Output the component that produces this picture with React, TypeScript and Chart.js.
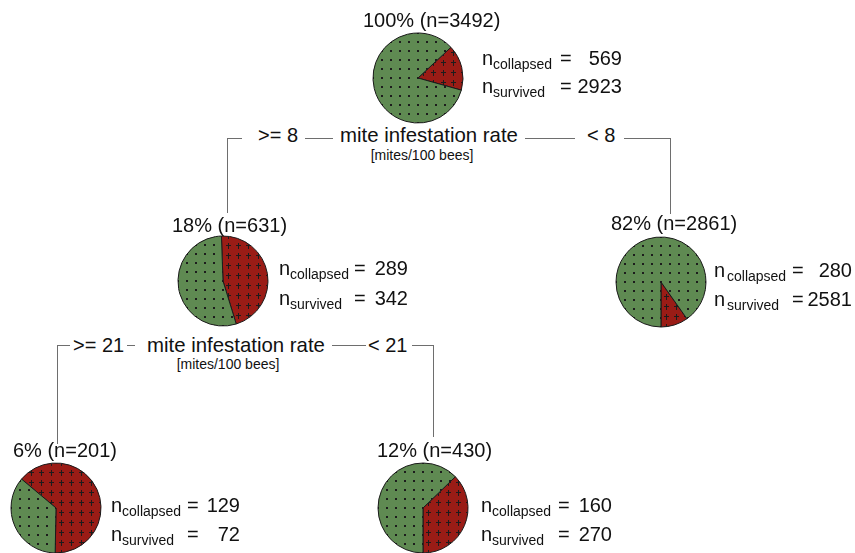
import React, { useEffect, useRef } from "react";
import { Chart, registerables } from "chart.js";

Chart.register(...registerables);

// Colony counts per tree node: root, >= 8, < 8, >= 21, < 21
const nodeNames = ["all colonies", "rate >= 8", "rate < 8", "rate >= 21", "8 <= rate < 21"];
const collapsedCounts = [569, 289, 280, 129, 160];
const survivedCounts = [2923, 342, 2581, 72, 270];
const sliceLabels = ["collapsed", "survived"];

// Split descriptions
const splitVariable = "mite infestation rate";
const splitUnit = "[mites/100 bees]";
const splitThresholds = [8, 21];

const totalColonies = collapsedCounts[0] + survivedCounts[0];

const FONT = '"Liberation Sans", Arial, Helvetica, sans-serif';
const TEXT_COLOR = "#111";
const LINE_COLOR = "#6e6e6e";
const GREEN = "#5f8a52";
const RED = "#9a1c16";

// Placement of each node: pie centre, title, count block, and pie rotation
const nodeLayout = [
  { cx: 418, cy: 78, rotation: 47, titleX: 363, titleY: 27, nX: 482, subGap: 11, eqX: 560, numR: 622, b1: 65, b2: 93 },
  { cx: 223, cy: 281, rotation: -2, titleX: 172, titleY: 232, nX: 279, subGap: 11, eqX: 354, numR: 408, b1: 275, b2: 305 },
  { cx: 661, cy: 282, rotation: 144.8, titleX: 611, titleY: 230, nX: 714, subGap: 13, eqX: 792, numR: 852, b1: 277, b2: 306 },
  { cx: 56, cy: 508, rotation: -50, titleX: 13, titleY: 457, nX: 111, subGap: 11, eqX: 187, numR: 240, b1: 512, b2: 541 },
  { cx: 423, cy: 508, rotation: 46, titleX: 377, titleY: 457, nX: 481, subGap: 11, eqX: 558, numR: 612, b1: 512, b2: 541 },
];

function dotPattern(): CanvasPattern | string {
  const c = document.createElement("canvas");
  c.width = 9;
  c.height = 9;
  const g = c.getContext("2d");
  if (!g) return GREEN;
  g.fillStyle = GREEN;
  g.fillRect(0, 0, 9, 9);
  g.fillStyle = "#1c1c1c";
  g.fillRect(4, 4, 2, 2);
  return g.createPattern(c, "repeat") || GREEN;
}

function crossPattern(): CanvasPattern | string {
  const c = document.createElement("canvas");
  c.width = 10;
  c.height = 10;
  const g = c.getContext("2d");
  if (!g) return RED;
  g.fillStyle = RED;
  g.fillRect(0, 0, 10, 10);
  g.fillStyle = "#1c1c1c";
  g.fillRect(5, 2, 1, 6);
  g.fillRect(3, 4, 5, 1);
  return g.createPattern(c, "repeat") || RED;
}

function Label(props: { x: number; y: number; size?: number; align?: "left" | "center" | "right"; children: React.ReactNode }) {
  const size = props.size ?? 20;
  const align = props.align ?? "left";
  const shift = align === "left" ? "0" : align === "center" ? "-50%" : "-100%";
  return (
    <span
      style={{
        position: "absolute",
        left: props.x,
        top: props.y - size * 0.8465,
        fontSize: size,
        lineHeight: 1,
        fontFamily: FONT,
        whiteSpace: "nowrap",
        color: TEXT_COLOR,
        transform: `translateX(${shift})`,
      }}
    >
      {props.children}
    </span>
  );
}

function HLine({ x1, x2, y }: { x1: number; x2: number; y: number }) {
  return <div style={{ position: "absolute", left: x1, top: y, width: x2 - x1, height: 1, background: LINE_COLOR }} />;
}

function VLine({ x, y1, y2 }: { x: number; y1: number; y2: number }) {
  return <div style={{ position: "absolute", left: x, top: y1, width: 1, height: y2 - y1, background: LINE_COLOR }} />;
}

function PieNode({ index }: { index: number }) {
  const ref = useRef<HTMLCanvasElement>(null);
  const lay = nodeLayout[index];
  useEffect(() => {
    const canvas = ref.current;
    if (!canvas) return;
    const chart = new Chart(canvas, {
      type: "pie",
      data: {
        labels: sliceLabels,
        datasets: [
          {
            label: nodeNames[index],
            data: [collapsedCounts[index], survivedCounts[index]],
            backgroundColor: [crossPattern(), dotPattern()] as any,
            borderColor: "#1a1a1a",
            borderWidth: 1,
            radius: 45,
          } as any,
        ],
      },
      options: {
        responsive: false,
        animation: false,
        devicePixelRatio: 1,
        rotation: lay.rotation,
        events: [],
        layout: { padding: 0 },
        plugins: { legend: { display: false }, tooltip: { enabled: false } },
      },
    });
    return () => chart.destroy();
  }, [index]);

  const n = collapsedCounts[index] + survivedCounts[index];
  const pct = Math.round((100 * n) / totalColonies);
  return (
    <>
      <canvas
        ref={ref}
        width={100}
        height={100}
        style={{ position: "absolute", left: lay.cx - 50, top: lay.cy - 50, width: 100, height: 100 }}
      />
      <Label x={lay.titleX} y={lay.titleY}>{`${pct}% (n=${n})`}</Label>
      <Label x={lay.nX} y={lay.b1}>n</Label>
      <Label x={lay.nX + lay.subGap} y={lay.b1 + 4} size={14}>collapsed</Label>
      <Label x={lay.eqX} y={lay.b1}>=</Label>
      <Label x={lay.numR} y={lay.b1} align="right">{collapsedCounts[index]}</Label>
      <Label x={lay.nX} y={lay.b2}>n</Label>
      <Label x={lay.nX + lay.subGap} y={lay.b2 + 4} size={14}>survived</Label>
      <Label x={lay.eqX} y={lay.b2}>=</Label>
      <Label x={lay.numR} y={lay.b2} align="right">{survivedCounts[index]}</Label>
    </>
  );
}

// Connectors and captions for the two splits
const splitLayout = [
  {
    lineY: 138, textY: 142, varX: 340, unitX: 422, unitY: 160, geX: 258, ltX: 587,
    segments: [[227, 242], [305, 333], [525, 575], [624, 670]],
    left: { x: 227, y2: 213 }, right: { x: 670, y2: 214 },
  },
  {
    lineY: 345, textY: 352, varX: 147, unitX: 228, unitY: 369, geX: 73, ltX: 368,
    segments: [[57, 70], [127, 135], [332, 366], [412, 434]],
    left: { x: 57, y2: 444 }, right: { x: 433, y2: 437 },
  },
];

function Split({ index }: { index: number }) {
  const s = splitLayout[index];
  const t = splitThresholds[index];
  return (
    <>
      {s.segments.map(([a, b], i) => (
        <HLine key={i} x1={a} x2={b} y={s.lineY} />
      ))}
      <VLine x={s.left.x} y1={s.lineY} y2={s.left.y2} />
      <VLine x={s.right.x} y1={s.lineY} y2={s.right.y2} />
      <Label x={s.geX} y={s.textY}>{`>= ${t}`}</Label>
      <Label x={s.ltX} y={s.textY}>{`< ${t}`}</Label>
      <Label x={s.varX} y={s.textY} size={20.4}>{splitVariable}</Label>
      <Label x={s.unitX} y={s.unitY} size={14} align="center">{splitUnit}</Label>
    </>
  );
}

export default function App() {
  return (
    <div
      style={{
        position: "absolute",
        left: 0,
        top: 0,
        width: 855,
        height: 553,
        background: "#fff",
        overflow: "hidden",
      }}
    >
      <Split index={0} />
      <Split index={1} />
      {nodeLayout.map((_, i) => (
        <PieNode key={i} index={i} />
      ))}
    </div>
  );
}
